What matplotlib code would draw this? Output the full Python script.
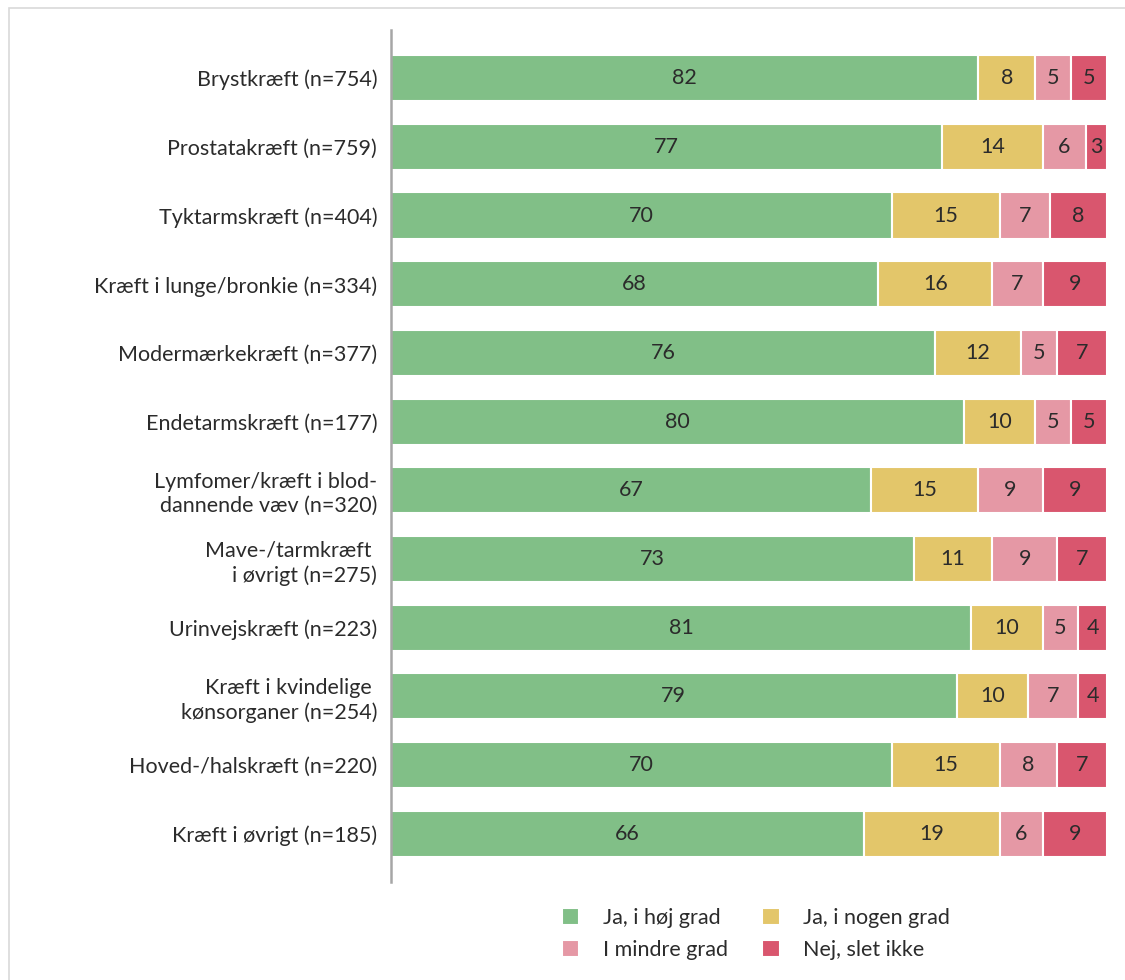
import numpy as np
import matplotlib.pyplot as plt
from matplotlib.patches import Rectangle

plt.rcParams['font.family'] = ['Lato', 'DejaVu Sans']

# 数据
kategorier = ['Brystkræft (n=754)', 'Prostatakræft (n=759)', 'Tyktarmskræft (n=404)',
              'Kræft i lunge/bronkie (n=334)', 'Modermærkekræft (n=377)',
              'Endetarmskræft (n=177)', 'Lymfomer/kræft i blod-\ndannende væv (n=320)',
              'Mave-/tarmkræft \ni øvrigt (n=275)', 'Urinvejskræft (n=223)',
              'Kræft i kvindelige \nkønsorganer (n=254)', 'Hoved-/halskræft (n=220)',
              'Kræft i øvrigt (n=185)']
hoej_grad = [82, 77, 70, 68, 76, 80, 67, 73, 81, 79, 70, 66]
nogen_grad = [8, 14, 15, 16, 12, 10, 15, 11, 10, 10, 15, 19]
mindre_grad = [5, 6, 7, 7, 5, 5, 9, 9, 5, 7, 8, 6]
slet_ikke = [5, 3, 8, 9, 7, 5, 9, 7, 4, 4, 7, 9]
serier = ['Ja, i høj grad', 'Ja, i nogen grad', 'I mindre grad', 'Nej, slet ikke']
farver = ['#81BF87', '#E3C66A', '#E598A5', '#D9566E']

fs = 15.5
tekstfarve = '#2B2B2B'

fig = plt.figure(figsize=(11.25, 9.8), dpi=100)
ax = fig.add_axes([0.3476, 0.1, 0.6364, 0.8694])

# 外框
fig.patches.append(Rectangle((0.008, -0.01), 1.0, 1.002, transform=fig.transFigure,
                             fill=False, edgecolor='#D9D9D9', linewidth=1.2))

y = np.arange(len(kategorier))
venstre = np.zeros(len(kategorier))
handles = []
for navn, vals, farve in zip(serier, [hoej_grad, nogen_grad, mindre_grad, slet_ikke], farver):
    vals = np.array(vals, dtype=float)
    bars = ax.barh(y, vals, left=venstre, height=0.67, color=farve,
                   edgecolor='white', linewidth=1.5, label=navn)
    handles.append(bars)
    for yi, l, v in zip(y, venstre, vals):
        ax.text(l + v / 2, yi, f'{v:.0f}', ha='center', va='center',
                fontsize=fs, color=tekstfarve)
    venstre += vals

ax.set_xlim(0, 100)
ax.set_ylim(len(kategorier) - 0.3, -0.7)
ax.set_yticks(y)
ax.set_yticklabels(kategorier, fontsize=fs, color=tekstfarve, ha='right',
                   linespacing=1.25)
ax.tick_params(axis='y', length=0, pad=10)
ax.set_xticks([])
for s in ['top', 'right', 'bottom']:
    ax.spines[s].set_visible(False)
ax.spines['left'].set_color('#A6A6A6')
ax.spines['left'].set_linewidth(1.8)

# 图例 (按列填充)
order = [0, 2, 1, 3]
fig.legend([handles[i] for i in order], [serier[i] for i in order], ncol=2,
           loc='center', bbox_to_anchor=(0.672, 0.047), frameon=False,
           fontsize=fs, handlelength=0.8, handleheight=0.8, handletextpad=1.1,
           columnspacing=1.6, labelspacing=0.55, labelcolor=tekstfarve)

fig.savefig('out.png', dpi=100)
